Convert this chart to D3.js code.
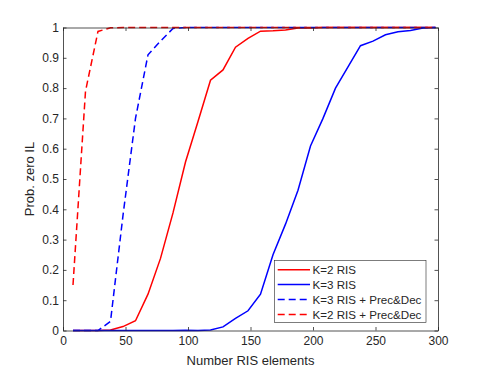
<!DOCTYPE html>
<html>
<head>
<script src="https://d3js.org/d3.v7.min.js"></script>
<style>
  body { margin: 0; background: #fff; }
  text { font-family: "Liberation Sans", Arial, Helvetica, sans-serif; fill: #262626; }
</style>
</head>
<body>
<svg width="485" height="371"></svg>
<script>
// number of RIS elements (x samples)
var nElems = [8,18,28,38,48,58,68,78,88,98,108,118,128,138,148,158,168,178,188,198,208,218,228,238,248,258,268,278,288,298];

var k2 = [0,0,0,0.002,0.013,0.032,0.12,0.238,0.388,0.556,0.69,0.826,0.86,0.935,0.964,0.988,0.989,0.992,0.998,0.998,1,1,1,1,1,1,1,1,1,1];
var k3 = [0,0,0,0,0,0,0,0,0,0.001,0,0.002,0.012,0.04,0.065,0.12,0.25,0.351,0.463,0.609,0.70,0.80,0.87,0.94,0.955,0.976,0.986,0.99,0.998,1];
var k3pd = [0,0,0,0.03,0.38,0.70,0.91,0.955,0.997,1,1,1,1,1,1,1,1,1,1,1,1,1,1,1,1,1,1,1,1,1];
var k2pd = [0.15,0.79,0.987,0.999,1,1,1,1,1,1,1,1,1,1,1,1,1,1,1,1,1,1,1,1,1,1,1,1,1,1];

var seriesNames = ["K=2 RIS", "K=3 RIS", "K=3 RIS + Prec&Dec", "K=2 RIS + Prec&Dec"];
var seriesVals = [k2, k3, k3pd, k2pd];
var seriesColors = ["#ff0000", "#0000ff", "#0000ff", "#ff0000"];
var seriesDash = [null, null, "7,4", "7,4"];

var xTicks = [0,50,100,150,200,250,300];
var yTicks = [0,0.1,0.2,0.3,0.4,0.5,0.6,0.7,0.8,0.9,1];

var svg = d3.select("svg");
var L = 63, R = 438, T = 27.5, B = 330.5;
var axisCol = "#262626";

var x = d3.scaleLinear().domain([0, 300]).range([L, R]);
var y = d3.scaleLinear().domain([0, 1]).range([B, T]);

var plot = svg.append("g");

//lines
var line = d3.line().x(function(d){ return x(d[0]); }).y(function(d){ return y(d[1]); });
seriesVals.forEach(function(vals, i) {
  plot.append("path")
    .datum(nElems.map(function(n, j){ return [n, vals[j]]; }))
    .attr("d", line)
    .attr("fill", "none")
    .attr("stroke", seriesColors[i])
    .attr("stroke-width", 1.5)
    .attr("stroke-dasharray", seriesDash[i]);
});

//axes (ticks inward, box all round)
var tl = 3.5;
var fmt = d3.format("~g");
svg.append("g").attr("transform", "translate(0," + B + ")")
  .call(d3.axisBottom(x).tickValues(xTicks).tickSizeInner(-tl).tickSizeOuter(0).tickPadding(6).tickFormat(fmt));
svg.append("g").attr("transform", "translate(0," + T + ")")
  .call(d3.axisTop(x).tickValues(xTicks).tickSizeInner(-tl).tickSizeOuter(0).tickFormat(""));
svg.append("g").attr("transform", "translate(" + L + ",0)")
  .call(d3.axisLeft(y).tickValues(yTicks).tickSizeInner(-tl).tickSizeOuter(0).tickPadding(4).tickFormat(fmt));
svg.append("g").attr("transform", "translate(" + R + ",0)")
  .call(d3.axisRight(y).tickValues(yTicks).tickSizeInner(-tl).tickSizeOuter(0).tickFormat(""));

svg.selectAll(".domain").attr("stroke", axisCol).attr("stroke-width", 0.8);
svg.selectAll(".tick line").attr("stroke", axisCol).attr("stroke-width", 0.8);
svg.selectAll(".tick text").style("font-size", "12px").attr("fill", axisCol)
  .style("font-family", "'Liberation Sans', Arial, sans-serif");

//labels
svg.append("text").attr("x", (L + R) / 2).attr("y", 364.5).attr("text-anchor", "middle")
  .style("font-size", "13px").text("Number RIS elements");
svg.append("text").attr("transform", "translate(33.5," + ((T + B) / 2) + ") rotate(-90)")
  .attr("text-anchor", "middle").style("font-size", "13px").text("Prob. zero IL");

//legend
var lg = svg.append("g");
lg.append("rect").attr("x", 274.5).attr("y", 260.5).attr("width", 151.5).attr("height", 62)
  .attr("fill", "#fff").attr("stroke", "#262626").attr("stroke-width", 0.6);
seriesNames.forEach(function(name, i) {
  var yy = 269.7 + i * 14.9;
  lg.append("line").attr("x1", 277.7).attr("x2", 310).attr("y1", yy).attr("y2", yy)
    .attr("stroke", seriesColors[i]).attr("stroke-width", 1.5)
    .attr("stroke-dasharray", seriesDash[i]);
  lg.append("text").attr("x", 312.5).attr("y", yy + 4.2).style("font-size", "11.6px").text(name);
});
</script>
</body>
</html>
